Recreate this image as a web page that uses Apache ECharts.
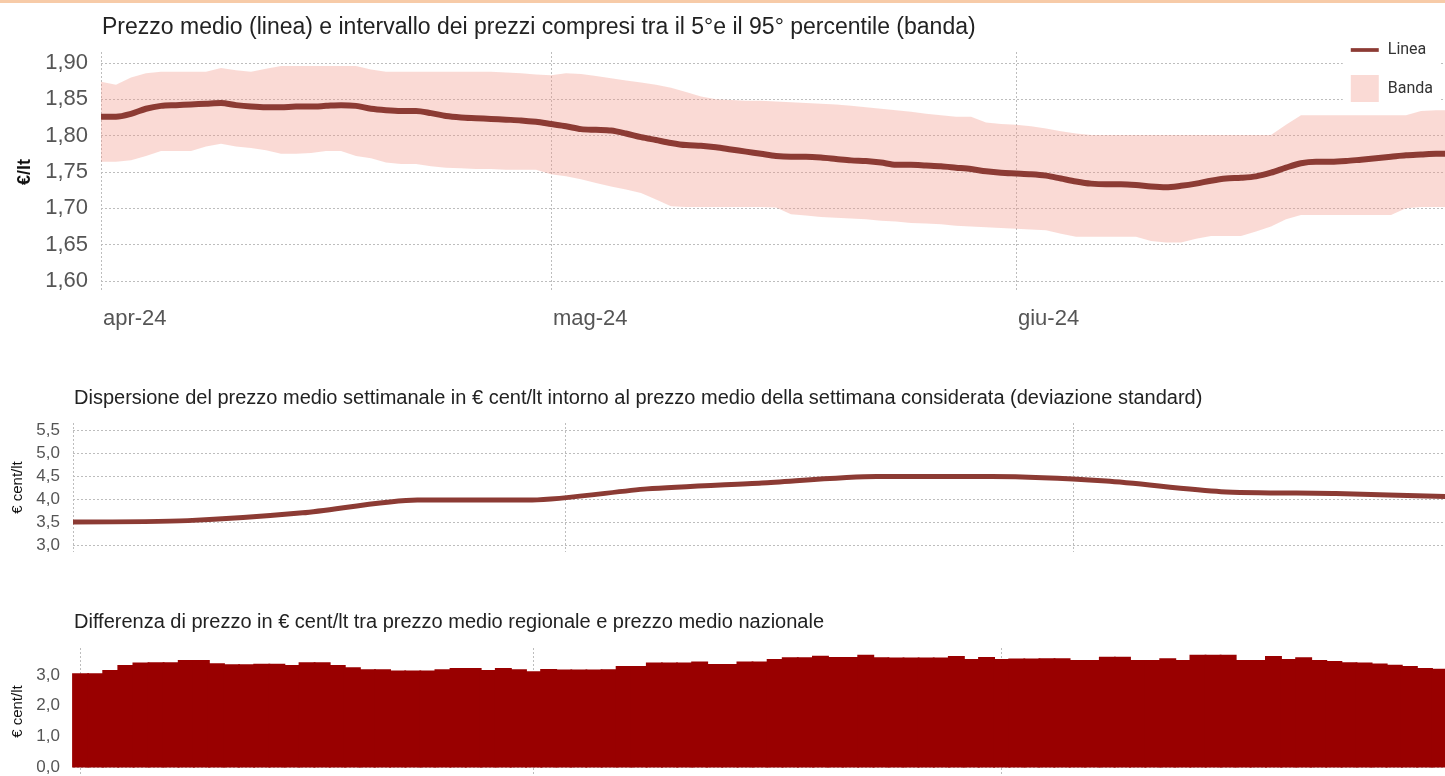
<!DOCTYPE html>
<html lang="it">
<head>
<meta charset="utf-8">
<title>Prezzo medio, dispersione e differenza regionale</title>
<script src="https://cdn.jsdelivr.net/npm/echarts@6/dist/echarts.min.js"></script>
<style>
  html, body { margin: 0; padding: 0; background: #fff; }
  #chart { width: 1445px; height: 776px; }
  .bordo { position: absolute; left: 0; top: 0; width: 1445px; height: 3px; background: #f7cba8; }
</style>
</head>
<body>
<div id="chart"></div>
<div class="bordo"></div>
<script>
// giorni contati dal 1 aprile 2024 (0 = 1/4)
const etichetteMese = ['apr-24', 'mag-24', 'giu-24'];
const inizioMese = [0, 30, 61];

// pannello 1: prezzo medio giornaliero e banda 5°-95° percentile (€/lt)
const prezzoMedio = [
  1.826, 1.826, 1.830, 1.837, 1.841, 1.842, 1.843, 1.844, 1.845, 1.842,
  1.840, 1.839, 1.839, 1.840, 1.840, 1.841, 1.842, 1.841, 1.837, 1.835,
  1.834, 1.834, 1.831, 1.827, 1.825, 1.824, 1.823, 1.822, 1.821, 1.819,
  1.816, 1.813, 1.809, 1.808, 1.807, 1.803, 1.798, 1.794, 1.790, 1.787,
  1.786, 1.784, 1.781, 1.778, 1.775, 1.772, 1.771, 1.771, 1.770, 1.768,
  1.766, 1.765, 1.763, 1.760, 1.760, 1.759, 1.758, 1.756, 1.754, 1.751,
  1.749, 1.748, 1.747, 1.745, 1.741, 1.737, 1.734, 1.733, 1.733, 1.732,
  1.730, 1.729, 1.731, 1.734, 1.738, 1.741, 1.742, 1.744, 1.749, 1.756,
  1.762, 1.764, 1.764, 1.765, 1.767, 1.769, 1.771, 1.773, 1.774, 1.775,
  1.775
];
const percentile5 = [
  1.764, 1.764, 1.766, 1.772, 1.779, 1.779, 1.779, 1.785, 1.789, 1.785,
  1.783, 1.780, 1.775, 1.775, 1.776, 1.779, 1.779, 1.772, 1.769, 1.763,
  1.761, 1.761, 1.758, 1.756, 1.755, 1.754, 1.754, 1.753, 1.753, 1.753,
  1.747, 1.744, 1.740, 1.735, 1.730, 1.726, 1.721, 1.712, 1.703, 1.702,
  1.702, 1.702, 1.702, 1.702, 1.702, 1.701, 1.692, 1.690, 1.688, 1.687,
  1.686, 1.685, 1.683, 1.682, 1.680, 1.679, 1.678, 1.676, 1.675, 1.674,
  1.673, 1.672, 1.671, 1.670, 1.665, 1.661, 1.661, 1.661, 1.661, 1.661,
  1.655, 1.653, 1.653, 1.658, 1.662, 1.662, 1.662, 1.668, 1.675, 1.685,
  1.691, 1.691, 1.691, 1.691, 1.691, 1.691, 1.691, 1.700, 1.702, 1.702,
  1.702
];
const percentile95 = [
  1.874, 1.870, 1.880, 1.886, 1.888, 1.888, 1.888, 1.888, 1.893, 1.890,
  1.888, 1.892, 1.896, 1.896, 1.896, 1.896, 1.896, 1.896, 1.891, 1.888,
  1.888, 1.888, 1.888, 1.888, 1.888, 1.888, 1.888, 1.887, 1.886, 1.884,
  1.883, 1.886, 1.885, 1.882, 1.879, 1.876, 1.873, 1.870, 1.866, 1.860,
  1.854, 1.850, 1.849, 1.848, 1.848, 1.847, 1.846, 1.845, 1.844, 1.843,
  1.841, 1.839, 1.837, 1.835, 1.833, 1.830, 1.828, 1.826, 1.826, 1.818,
  1.816, 1.815, 1.813, 1.810, 1.806, 1.803, 1.801, 1.801, 1.801, 1.801,
  1.801, 1.801, 1.801, 1.801, 1.801, 1.801, 1.801, 1.801, 1.801, 1.815,
  1.828, 1.828, 1.828, 1.828, 1.828, 1.828, 1.828, 1.828, 1.834, 1.835,
  1.835
];
const tickPrezzo = [1.60, 1.65, 1.70, 1.75, 1.80, 1.85, 1.90];

// pannello 2: deviazione standard settimanale (€ cent/lt)
const giorniSettimana = [0, 7, 14, 21, 28, 35, 42, 49, 56, 63, 70, 77, 84];
const deviazioneStd = [3.50, 3.53, 3.70, 3.98, 3.98, 4.22, 4.35, 4.49, 4.49, 4.39, 4.16, 4.12, 4.05];
const tickDeviazione = [3.0, 3.5, 4.0, 4.5, 5.0, 5.5];

// pannello 3: differenza prezzo regionale - nazionale (€ cent/lt), giornaliera
const differenza = [
  3.05, 3.05, 3.16, 3.32, 3.40, 3.41, 3.41, 3.48, 3.48, 3.38,
  3.34, 3.34, 3.36, 3.36, 3.32, 3.41, 3.41, 3.32, 3.25, 3.18,
  3.18, 3.14, 3.14, 3.14, 3.18, 3.22, 3.22, 3.16, 3.22, 3.18,
  3.12, 3.19, 3.17, 3.17, 3.17, 3.18, 3.29, 3.29, 3.40, 3.40,
  3.40, 3.43, 3.35, 3.35, 3.43, 3.43, 3.51, 3.57, 3.57, 3.62,
  3.58, 3.58, 3.65, 3.57, 3.56, 3.56, 3.56, 3.56, 3.61, 3.51,
  3.58, 3.51, 3.53, 3.53, 3.54, 3.54, 3.48, 3.48, 3.59, 3.59,
  3.48, 3.48, 3.54, 3.48, 3.65, 3.65, 3.65, 3.48, 3.48, 3.61,
  3.51, 3.57, 3.48, 3.45, 3.41, 3.40, 3.37, 3.33, 3.29, 3.22,
  3.20
];
const tickDifferenza = [0, 1, 2, 3];

const titolo1 = 'Prezzo medio (linea) e intervallo dei prezzi compresi tra il 5°e il 95° percentile (banda)';
const titolo2 = 'Dispersione del prezzo medio settimanale in € cent/lt intorno al prezzo medio della settimana considerata (deviazione standard)';
const titolo3 = 'Differenza di prezzo in € cent/lt tra prezzo medio regionale e prezzo medio nazionale';

const FONT = '"Liberation Sans", Arial, sans-serif';
const ROSSO = '#8c3b34';
const ROSA = 'rgba(242,150,135,0.35)';
const griglia = { show: true, lineStyle: { color: '#bdbdbd', type: [2, 2], width: 1 } };
const virgola = d => v => v.toFixed(d).replace('.', ',');

function asseX(idx, min, max, etichette) {
  return {
    type: 'value', gridIndex: idx, min: min, max: max,
    axisLine: { show: false },
    axisTick: { show: false, customValues: inizioMese },
    splitLine: griglia,
    axisLabel: etichette ? {
      customValues: inizioMese,
      formatter: v => etichetteMese[inizioMese.indexOf(v)],
      align: 'left', padding: [0, 0, 0, 2], margin: 16,
      fontFamily: FONT, fontSize: 22, color: '#555'
    } : { show: false }
  };
}
function asseY(idx, min, max, ticks, dec, size, nome, nomeSize, gap) {
  return {
    type: 'value', gridIndex: idx, min: min, max: max,
    axisLine: { show: false },
    axisTick: { show: false, customValues: ticks },
    splitLine: griglia,
    axisLabel: { customValues: ticks, formatter: virgola(dec), margin: 13, fontFamily: FONT, fontSize: size, color: '#555' },
    name: nome, nameLocation: 'middle', nameGap: gap, nameRotate: 90,
    nameTextStyle: { fontFamily: FONT, fontSize: nomeSize, color: '#111', fontWeight: idx === 0 ? 'bold' : 'normal' }
  };
}

const chart = echarts.init(document.getElementById('chart'));
chart.setOption({
  animation: false,
  backgroundColor: '#fff',
  title: [
    { text: titolo1, left: 102, top: 16, padding: 0, textStyle: { fontFamily: FONT, fontSize: 23, fontWeight: 'normal', color: '#222' } },
    { text: titolo2, left: 74, top: 388, padding: 0, textStyle: { fontFamily: FONT, fontSize: 20, fontWeight: 'normal', color: '#222' } },
    { text: titolo3, left: 74, top: 612, padding: 0, textStyle: { fontFamily: FONT, fontSize: 20, fontWeight: 'normal', color: '#222' } }
  ],
  legend: {
    data: [{ name: 'Linea', icon: 'path://M0,0h30v4h-30z' }, { name: 'Banda', icon: 'rect' }],
    orient: 'vertical', right: 6, top: 38,
    itemWidth: 28, itemHeight: 27, itemGap: 17,
    backgroundColor: '#fff', padding: [4, 6, 4, 8],
    selectedMode: false,
    textStyle: { fontFamily: 'Roboto', fontSize: 16, color: '#333', padding: [0, 0, 0, 4] }
  },
  grid: [
    { left: 101, top: 52, width: 1344, height: 240 },
    { left: 73, top: 423, width: 1372, height: 129 },
    { left: 73, top: 648, width: 1372, height: 128 }
  ],
  xAxis: [
    asseX(0, 0, 89.6, true),
    asseX(1, 0, 83.66, false),
    asseX(2, -0.5, 90.36, false)
  ],
  yAxis: [
    asseY(0, 1.5849, 1.9151, tickPrezzo, 2, 22, '€/lt', 18, 55),
    asseY(1, 2.848, 5.652, tickDeviazione, 1, 17, '€ cent/lt', 15, 42),
    asseY(2, -0.25, 3.87, tickDifferenza, 1, 17, '€ cent/lt', 15, 42)
  ],
  series: [
    {
      // banda tra 5° e 95° percentile come un unico poligono
      name: 'Banda', type: 'custom', xAxisIndex: 0, yAxisIndex: 0,
      itemStyle: { color: ROSA }, z: 1, clip: true, silent: true,
      encode: { x: 0, y: [1, 2] },
      data: percentile5.map((v, i) => [i, v, percentile95[i]]),
      renderItem: (params, api) => {
        if (params.dataIndex !== 0) return null;
        const sopra = percentile95.map((v, i) => api.coord([i, v]));
        const sotto = percentile5.map((v, i) => api.coord([i, v])).reverse();
        return { type: 'polygon', shape: { points: sopra.concat(sotto) }, style: { fill: ROSA } };
      }
    },
    {
      name: 'Linea', type: 'line', xAxisIndex: 0, yAxisIndex: 0,
      symbol: 'none', smooth: 0.3, z: 5,
      itemStyle: { color: ROSSO },
      lineStyle: { color: ROSSO, width: 6 },
      data: prezzoMedio.map((v, i) => [i, v])
    },
    {
      name: 'Deviazione standard', type: 'line', xAxisIndex: 1, yAxisIndex: 1,
      symbol: 'none', smooth: 0.25,
      lineStyle: { color: ROSSO, width: 5 },
      data: deviazioneStd.map((v, i) => [giorniSettimana[i], v])
    },
    {
      name: 'Differenza', type: 'bar', xAxisIndex: 2, yAxisIndex: 2,
      barWidth: '112%',
      itemStyle: { color: '#990000' },
      data: differenza.map((v, i) => [i, v])
    }
  ]
});
</script>
</body>
</html>
